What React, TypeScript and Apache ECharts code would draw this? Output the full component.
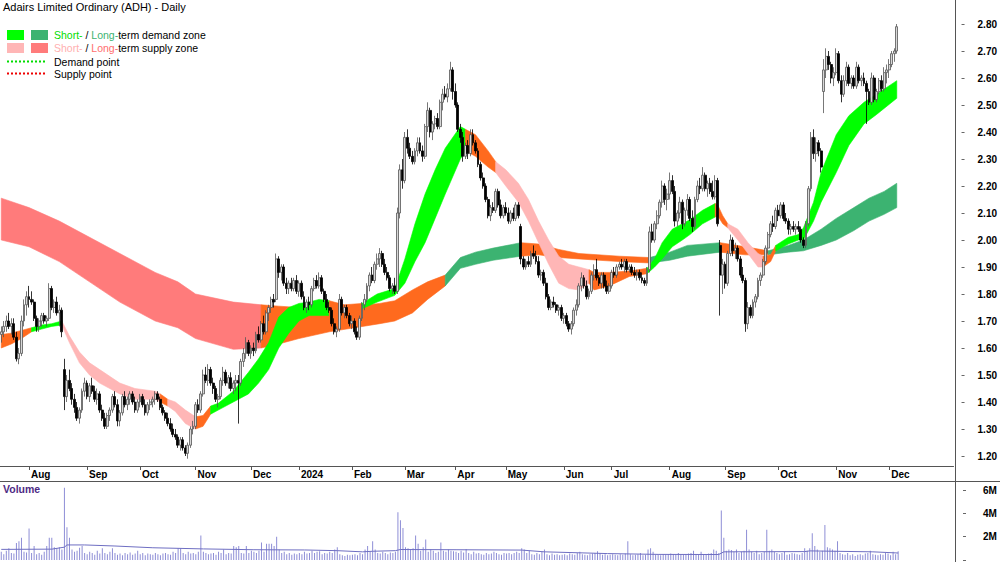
import React, { useEffect, useRef } from "react";
import * as echarts from "echarts";

// ---------- Axis labels ----------
const monthLabels = ["Aug", "Sep", "Oct", "Nov", "Dec", "2024", "Feb", "Mar", "Apr", "May", "Jun", "Jul", "Aug", "Sep", "Oct", "Nov", "Dec"];
const monthStartIdx = [11, 34, 55, 77, 99, 118, 139, 160, 180, 200, 223, 242, 265, 287, 308, 331, 352];
const priceTicks = { min: 1.2, max: 2.8, step: 0.1 };
const volumeTicks = { min: 0, max: 6, step: 2 };

// ---------- Daily bars [open, high, low, close] in cents ----------
const jul23 = [[165,168,162,166],[166,170,164,168],[168,172,166,170],[170,173,167,168],[168,171,165,169],[169,171,163,164],[164,166,155,156],[156,160,154,158],[158,172,157,170],[170,178,168,176],[176,181,172,179]];
const aug23 = [[179,183,175,178],[178,181,176,177],[177,178,170,171],[171,172,166,168],[168,171,166,170],[170,173,168,172],[172,173,169,170],[170,172,168,171],[171,184,170,182],[182,183,174,175],[175,178,173,177],[177,179,172,173],[173,176,168,174],[174,175,164,166],[152,156,137,142],[142,150,140,148],[148,152,144,145],[145,147,139,141],[141,143,136,138],[138,140,133,134],[134,138,132,137],[137,145,136,144],[144,149,142,147]];
const sep23 = [[147,148,141,142],[142,147,140,146],[146,149,143,144],[144,146,140,141],[141,145,139,143],[143,144,136,137],[137,139,133,134],[134,136,130,131],[131,136,130,135],[135,138,133,137],[137,143,136,142],[142,144,138,139],[139,141,131,133],[133,137,131,136],[136,143,135,142],[142,144,138,139],[139,142,137,141],[141,144,139,143],[143,144,139,140],[140,142,136,137],[137,141,136,140]];
const oct23 = [[140,143,138,142],[142,143,138,139],[139,141,135,136],[136,140,135,139],[139,141,137,140],[140,142,138,141],[141,144,139,143],[143,144,140,141],[141,142,137,138],[138,139,135,136],[136,137,133,134],[134,136,131,132],[132,134,129,130],[130,132,127,128],[128,130,126,127],[127,128,123,124],[124,127,122,126],[126,127,122,123],[123,124,120,121],[121,125,119,124],[124,131,123,130],[130,133,128,131]];
const nov23 = [[131,140,130,139],[139,141,136,137],[137,144,136,143],[143,152,142,150],[150,153,147,148],[148,154,146,152],[152,153,146,147],[147,149,143,145],[145,146,140,141],[141,143,138,142],[142,149,141,148],[148,153,146,151],[151,152,146,147],[147,150,145,149],[149,151,144,145],[145,148,143,147],[147,150,144,148],[148,150,132,147],[147,156,146,155],[155,160,153,158],[158,164,156,162],[162,163,157,158]];
const dec23 = [[158,161,156,160],[160,162,157,159],[159,166,158,165],[165,168,162,163],[163,170,162,169],[169,172,165,166],[166,174,165,173],[173,176,170,175],[175,179,173,178],[178,180,175,177],[178,195,177,193],[193,194,186,188],[188,191,185,190],[190,191,183,184],[184,186,180,182],[182,185,180,184],[184,186,181,182],[182,186,181,185],[185,187,180,181]];
const jan24 = [[181,185,179,184],[184,185,178,179],[179,181,174,175],[175,178,173,177],[177,179,174,176],[176,183,175,182],[182,186,181,185],[185,187,182,183],[183,188,182,186],[186,187,180,181],[181,182,177,178],[178,180,174,175],[175,177,173,174],[174,175,168,169],[169,171,165,166],[166,168,164,167],[167,180,166,178],[178,179,172,173],[173,176,171,175],[175,176,171,172],[172,173,168,169]];
const feb24 = [[169,172,167,170],[170,171,165,166],[166,168,163,164],[164,172,163,171],[171,177,170,176],[176,180,174,178],[178,184,177,183],[183,188,181,187],[187,190,184,185],[185,192,184,191],[191,195,189,193],[193,197,190,195],[195,196,190,191],[191,193,187,188],[188,190,185,186],[186,187,181,182],[182,184,180,183],[183,186,180,181],[181,212,180,210],[210,228,208,226],[226,230,219,222]];
const mar24 = [[222,240,221,238],[238,241,232,234],[234,236,230,231],[231,233,228,229],[229,234,228,233],[233,238,231,236],[236,238,232,233],[233,235,229,231],[231,243,230,242],[242,251,240,248],[248,249,238,240],[240,244,237,243],[243,246,241,245],[245,247,241,242],[242,252,241,251],[251,256,248,254],[254,257,252,253],[253,258,251,256],[256,266,255,263],[263,264,252,255]];
const apr24 = [[255,258,249,250],[250,251,240,241],[241,243,236,238],[238,240,229,231],[231,236,230,235],[235,237,230,232],[232,241,231,239],[239,241,235,236],[236,237,232,233],[233,234,227,228],[228,229,222,223],[223,225,219,220],[220,221,214,215],[215,216,208,209],[209,213,207,212],[212,214,210,211],[211,219,210,218],[218,219,212,213],[213,215,208,209],[209,213,208,212]];
const may24 = [[212,214,209,210],[210,212,206,207],[207,211,206,210],[210,212,207,208],[208,214,207,213],[213,214,208,209],[205,206,191,193],[193,194,189,190],[190,193,189,192],[192,194,190,191],[191,196,190,195],[195,198,193,194],[194,196,191,192],[192,194,186,187],[187,189,185,188],[188,189,183,184],[184,186,178,179],[179,180,174,175],[175,178,174,177],[177,179,175,176],[176,177,173,174],[174,176,172,175],[175,176,170,171]];
const jun24 = [[171,173,169,172],[172,173,168,169],[169,170,166,167],[167,170,165,169],[169,175,168,174],[174,178,172,176],[176,184,175,183],[183,188,181,186],[186,187,182,183],[183,185,178,179],[179,182,178,181],[181,188,180,187],[187,191,185,189],[189,193,185,186],[186,187,183,184],[184,188,182,187],[187,188,182,183],[183,185,180,181],[181,184,180,183]];
const jul24 = [[183,189,182,188],[188,190,186,187],[187,191,186,190],[190,192,189,191],[191,193,189,190],[190,193,188,192],[192,193,188,189],[189,191,188,190],[190,191,187,188],[188,190,186,187],[187,189,185,188],[188,189,185,186],[186,188,184,185],[185,186,183,184],[184,190,183,189],[189,205,188,203],[203,206,199,200],[200,207,199,206],[206,211,204,209],[209,215,208,214],[214,222,212,220],[220,221,213,215],[215,219,211,217]];
const aug24 = [[217,225,215,222],[222,224,217,218],[218,220,205,207],[207,211,205,210],[210,216,208,214],[214,215,204,206],[206,212,205,211],[211,217,209,215],[215,216,207,208],[208,211,203,205],[205,216,204,215],[215,222,214,220],[220,223,217,219],[219,227,218,224],[224,225,218,219],[219,222,216,221],[221,223,217,218],[218,222,215,216],[216,224,215,222],[222,223,205,206],[198,200,172,187],[187,193,180,191]];
const sep24 = [[191,192,182,184],[184,196,183,195],[195,202,194,200],[200,201,194,196],[196,199,193,197],[197,198,192,193],[193,194,186,187],[187,190,184,185],[185,186,166,169],[169,177,167,175],[175,176,171,172],[172,178,171,177],[177,180,175,179],[179,186,178,185],[185,188,183,187],[187,193,186,192],[192,198,191,197],[197,203,195,202],[202,207,201,206],[206,209,203,205],[205,212,204,211]];
const oct24 = [[211,213,207,209],[209,214,208,213],[213,214,207,208],[208,210,206,207],[207,208,202,204],[204,206,202,205],[205,207,203,204],[204,206,202,205],[205,207,203,204],[204,205,199,200],[200,201,197,198],[198,207,197,206],[206,220,205,219],[219,240,218,238],[238,241,230,232],[232,238,229,236],[236,237,231,233],[233,234,225,227],[255,267,247,263],[263,271,260,268],[268,270,263,265],[265,266,258,260],[260,264,257,262]];
const nov24 = [[262,271,261,269],[269,270,258,259],[259,261,251,254],[254,261,253,259],[259,266,257,264],[264,265,257,258],[258,261,256,260],[260,261,256,257],[257,266,256,264],[264,265,258,259],[259,261,257,260],[260,262,257,258],[258,259,243,255],[255,256,250,251],[251,262,250,260],[260,261,251,252],[252,256,251,255],[255,260,254,259],[259,261,255,256],[256,264,255,262],[262,265,258,263]];
const dec24 = [[263,267,260,265],[265,270,264,269],[269,271,266,270],[270,280,269,279]];

// ---------- Volume (millions) ----------
const volJul23 = [0.7,0.5,0.8,1.0,0.6,0.55,1.45,1.6,1.9,0.7,0.65];
const volAug23 = [2.7,0.6,1.2,0.5,0.6,0.45,0.7,1.2,1.9,1.9,1.1,1.0,1.1,0.9,6.2,2.8,1.9,0.9,0.7,0.8,1.05,1.2,0.6];
const volSep23 = [0.5,0.7,0.6,0.45,0.8,0.55,1.0,0.6,0.5,0.7,1.0,0.6,0.45,0.55,0.4,0.6,0.5,0.65,0.45,0.55,0.8];
const volOct23 = [0.5,0.6,0.4,0.55,0.5,0.45,0.6,0.5,0.4,0.55,0.6,0.5,0.45,0.7,0.6,1.0,1.0,0.6,0.5,0.7,0.55,0.6];
const volNov23 = [0.5,0.7,2.1,0.7,0.6,0.5,0.55,0.6,0.45,0.7,0.6,0.9,0.5,0.6,0.55,1.2,1.1,1.2,0.6,0.55,1.2,0.6];
const volDec23 = [0.8,0.7,0.6,0.8,1.5,0.7,1.4,1.4,1.4,1.2,2.0,0.9,0.6,0.7,0.5,0.6,0.45,0.55,0.5];
const volJan24 = [0.6,0.5,0.7,0.55,0.6,0.8,0.6,0.7,0.75,0.5,0.6,0.55,0.7,0.6,0.9,1.1,0.5,0.4,0.35,0.45,0.4];
const volFeb24 = [0.45,0.5,0.4,0.6,0.5,0.9,1.2,0.7,1.6,0.9,0.6,0.55,0.7,0.6,0.5,0.65,0.6,0.7,4.1,3.4,2.75];
const volMar24 = [1.1,1.0,0.9,1.0,2.1,1.4,0.8,1.1,1.75,0.7,0.9,0.8,0.6,0.7,1.5,0.8,0.7,0.9,0.8,0.75];
const volApr24 = [0.7,0.6,0.8,0.65,0.95,0.6,0.5,0.7,0.55,0.6,0.5,0.45,0.6,0.5,0.55,0.7,0.6,0.5,0.45,0.6];
const volMay24 = [0.55,0.6,0.5,0.6,0.7,0.6,1.0,0.9,0.6,0.8,0.5,0.45,0.6,0.5,0.7,0.9,0.5,0.4,0.55,0.45,0.5,0.4,0.45];
const volJun24 = [0.5,0.4,0.55,0.5,0.45,0.6,0.7,0.5,0.45,0.4,0.5,0.55,0.6,0.75,0.6,0.45,0.5,0.4,0.45];
const volJul24 = [0.5,0.45,0.4,0.5,0.45,0.55,1.6,0.5,0.4,0.45,0.5,0.6,0.4,0.45,0.9,1.0,0.7,0.45,0.5,0.4,0.5,0.45,0.5];
const volAug24 = [0.55,0.5,0.45,0.6,0.5,0.45,0.5,0.55,0.6,0.8,0.5,0.45,0.7,0.5,0.45,0.55,0.6,0.9,0.8,0.6,4.25,1.9];
const volSep24 = [0.8,0.9,0.85,0.7,0.9,0.6,0.7,0.8,2.6,0.9,0.7,0.6,0.8,0.5,0.6,0.7,2.6,0.8,0.9,0.7,0.6];
const volOct24 = [0.5,0.6,0.7,0.45,0.5,0.6,0.55,0.5,0.45,0.6,1.0,0.8,1.0,2.3,1.2,0.9,0.7,0.8,3.0,1.1,1.0,0.9,0.8];
const volNov24 = [1.6,0.6,0.5,0.45,0.6,0.4,0.5,0.35,0.45,0.5,0.4,0.55,0.6,0.8,0.5,0.45,0.4,0.5,0.45,0.6,0.55];
const volDec24 = [0.4,0.7,0.5,0.75];

// Volume average line: [bar index, millions]
const volumeAverage = [[0,0.91],[20,0.93],[25,1.1],[26,1.29],[33,1.29],[45,1.2],[60,1.05],[80,0.95],[100,0.88],[120,0.86],[133,0.8],[143,0.7],[147,0.75],[156,0.8],[158,0.9],[180,0.88],[206,0.85],[215,0.7],[240,0.55],[260,0.48],[284,0.47],[286,0.7],[318,0.72],[320,0.78],[345,0.7],[355,0.6]];

// ---------- Zones: [bar index, lower, upper] ----------
const ltSupply1 = [[0,2.00,2.155],[11,1.975,2.12],[23,1.92,2.07],[35,1.845,2.01],[47,1.77,1.95],[61,1.70,1.88],[70,1.675,1.845],[77,1.635,1.80],[92,1.595,1.77],[103,1.60,1.76]];
const ltNeutral1 = [[103,1.60,1.76],[110,1.615,1.755],[118,1.635,1.75],[130,1.66,1.75],[140,1.675,1.755],[150,1.69,1.765],[156,1.70,1.775],[163,1.73,1.815],[169,1.78,1.845],[176,1.83,1.87]];
const ltDemand1 = [[176,1.83,1.87],[182,1.895,1.935],[188,1.91,1.955],[195,1.925,1.97],[206,1.94,1.99]];
const ltNeutral2 = [[206,1.94,1.99],[213,1.945,1.985],[221,1.935,1.965],[229,1.93,1.95],[245,1.92,1.94],[257,1.915,1.935]];
const ltDemand2 = [[257,1.915,1.935],[265,1.925,1.955],[272,1.94,1.98],[285,1.955,1.99]];
const ltNeutral3 = [[285,1.955,1.99],[295,1.945,1.975],[304,1.945,1.96]];
const ltDemand3 = [[304,1.945,1.96],[312,1.955,1.98],[318,1.96,2.00],[325,1.98,2.04],[331,2.00,2.08],[338,2.035,2.12],[344,2.07,2.155],[350,2.095,2.18],[355,2.12,2.21]];

const stNeutral1 = [[0,1.60,1.65],[4,1.615,1.655],[8,1.635,1.665],[12,1.66,1.675]];
const stDemand1 = [[12,1.66,1.675],[16,1.67,1.685],[20,1.68,1.69],[24,1.685,1.70]];
const stSupply1 = [[24,1.685,1.70],[27,1.62,1.645],[31,1.545,1.585],[35,1.50,1.545],[39,1.47,1.52],[47,1.43,1.47],[53,1.41,1.45],[61,1.41,1.44],[63,1.40,1.43]];
const stNeutral2 = [[63,1.40,1.43],[66,1.385,1.41]];
const stSupply2 = [[66,1.385,1.41],[69,1.365,1.40],[73,1.32,1.37],[77,1.30,1.345]];
const stNeutral3 = [[77,1.30,1.345],[80,1.31,1.35],[83,1.355,1.385]];
const stDemand2 = [[83,1.355,1.385],[86,1.37,1.395],[92,1.40,1.44],[98,1.43,1.51],[102,1.47,1.56],[106,1.52,1.62],[110,1.60,1.715],[114,1.655,1.75],[118,1.70,1.765],[122,1.72,1.77],[126,1.72,1.78],[130,1.72,1.775]];
const stNeutral4 = [[130,1.72,1.775],[136,1.72,1.76],[143,1.745,1.765]];
const stDemand3 = [[143,1.745,1.765],[149,1.77,1.80],[156,1.795,1.82],[160,1.84,1.93],[164,1.92,2.06],[168,1.99,2.17],[172,2.08,2.26],[176,2.17,2.34],[182,2.30,2.42],[184,2.33,2.41]];
const stNeutral5 = [[184,2.33,2.41],[188,2.31,2.39],[193,2.27,2.33],[196,2.25,2.29]];
const stSupply3 = [[196,2.25,2.29],[200,2.20,2.26],[205,2.14,2.21],[209,2.07,2.15],[213,1.99,2.07],[217,1.91,2.00],[221,1.84,1.94],[225,1.82,1.91],[229,1.815,1.90],[233,1.84,1.89]];
const stNeutral6 = [[233,1.84,1.89],[235,1.815,1.88],[241,1.83,1.88],[249,1.865,1.885],[256,1.875,1.895]];
const stDemand4 = [[256,1.875,1.895],[259,1.90,1.93],[262,1.93,1.99],[266,1.975,2.04],[270,2.00,2.06],[273,2.02,2.075],[278,2.06,2.11],[283,2.085,2.135]];
const stNeutral7 = [[283,2.085,2.135],[284,2.09,2.13],[286,2.06,2.09],[288,2.045,2.06]];
const stSupply4 = [[288,2.045,2.06],[292,2.00,2.04],[296,1.95,1.99],[300,1.90,1.95],[302,1.90,1.94]];
const stNeutral8 = [[302,1.90,1.94],[305,1.92,1.945],[307,1.96,1.98]];
const stDemand5 = [[307,1.96,1.98],[312,1.985,2.01],[316,2.00,2.02],[318,2.00,2.045],[322,2.07,2.14],[325,2.14,2.25],[331,2.25,2.39],[336,2.35,2.46],[342,2.43,2.51],[347,2.465,2.54],[355,2.525,2.59]];

// ---------- Styling ----------
const C_GREEN = "#00FF00";
const C_DGREEN = "#3CB371";
const C_PINK = "#FFB6B6";
const C_RED = "#FF7B7B";
const C_ORANGE = "#FF6A1E";
const FONT = "Liberation Sans, Arial, sans-serif";

const longTermZones = [
  { color: C_RED, pts: ltSupply1 },
  { color: C_ORANGE, pts: ltNeutral1 },
  { color: C_DGREEN, pts: ltDemand1 },
  { color: C_ORANGE, pts: ltNeutral2 },
  { color: C_DGREEN, pts: ltDemand2 },
  { color: C_ORANGE, pts: ltNeutral3 },
  { color: C_DGREEN, pts: ltDemand3 },
];
const shortTermZones = [
  { color: C_ORANGE, pts: stNeutral1 },
  { color: C_GREEN, pts: stDemand1 },
  { color: C_PINK, pts: stSupply1 },
  { color: C_ORANGE, pts: stNeutral2 },
  { color: C_PINK, pts: stSupply2 },
  { color: C_ORANGE, pts: stNeutral3 },
  { color: C_GREEN, pts: stDemand2 },
  { color: C_ORANGE, pts: stNeutral4 },
  { color: C_GREEN, pts: stDemand3 },
  { color: C_ORANGE, pts: stNeutral5 },
  { color: C_PINK, pts: stSupply3 },
  { color: C_ORANGE, pts: stNeutral6 },
  { color: C_GREEN, pts: stDemand4 },
  { color: C_ORANGE, pts: stNeutral7 },
  { color: C_PINK, pts: stSupply4 },
  { color: C_ORANGE, pts: stNeutral8 },
  { color: C_GREEN, pts: stDemand5 },
];

const bars = [...jul23, ...aug23, ...sep23, ...oct23, ...nov23, ...dec23, ...jan24, ...feb24, ...mar24, ...apr24, ...may24, ...jun24, ...jul24, ...aug24, ...sep24, ...oct24, ...nov24, ...dec24];
const volumes = [...volJul23, ...volAug23, ...volSep23, ...volOct23, ...volNov23, ...volDec23, ...volJan24, ...volFeb24, ...volMar24, ...volApr24, ...volMay24, ...volJun24, ...volJul24, ...volAug24, ...volSep24, ...volOct24, ...volNov24, ...volDec24];

const EMPTY_SLOTS = 22; // blank space at right of the plot
const categories = Array.from({ length: bars.length + EMPTY_SLOTS }, (_, i) => "d" + i);
const labelMap = new Map<number, string>(monthStartIdx.map((idx, k) => [idx, monthLabels[k]]));

function zoneSeries(zones: { color: string; pts: number[][] }[], z: number) {
  return {
    type: "custom",
    xAxisIndex: 0,
    yAxisIndex: 0,
    z,
    silent: true,
    data: zones.map((s, k) => [s.pts[0][0], s.pts[0][1], k]),
    encode: { x: 0, y: 1 },
    renderItem: (params: any, api: any) => {
      const s = zones[params.dataIndex];
      const top = s.pts.map((p) => api.coord([p[0], p[2]]));
      const bot = s.pts.slice().reverse().map((p) => api.coord([p[0], p[1]]));
      return {
        type: "polygon",
        shape: { points: top.concat(bot) },
        style: { fill: s.color, stroke: s.color, lineWidth: 0.6 },
      };
    },
  };
}

export default function App() {
  const ref = useRef<HTMLDivElement>(null);
  useEffect(() => {
    const chart = echarts.init(ref.current!, null, { renderer: "svg" });
    const axisLabelStyle = { color: "#000", fontSize: 10, fontWeight: "bold", fontFamily: FONT };
    const option: any = {
      animation: false,
      backgroundColor: "#fff",
      textStyle: { fontFamily: FONT },
      grid: [
        { left: 0, right: 45, top: 24, height: 432 },
        { left: 0, right: 45, top: 490, height: 70 },
      ],
      xAxis: [
        {
          type: "category",
          gridIndex: 0,
          data: categories,
          boundaryGap: true,
          offset: 10,
          axisLine: { show: true, lineStyle: { color: "#555", width: 1 } },
          axisTick: { show: true, alignWithLabel: true, interval: (i: number) => labelMap.has(i), length: 4, lineStyle: { color: "#555" } },
          axisLabel: {
            ...axisLabelStyle,
            interval: (i: number) => labelMap.has(i),
            formatter: (v: string) => labelMap.get(parseInt(v.slice(1), 10)) ?? "",
            align: "left",
            padding: [0, 0, 0, 2],
            margin: 3,
          },
          splitLine: { show: false },
        },
        { type: "category", gridIndex: 1, data: categories, boundaryGap: true, show: false },
      ],
      yAxis: [
        {
          type: "value",
          gridIndex: 0,
          position: "right",
          min: priceTicks.min,
          max: priceTicks.max,
          interval: priceTicks.step,
          offset: 8,
          axisLine: { show: false },
          axisTick: { show: true, length: 3, lineStyle: { color: "#666" } },
          axisLabel: { ...axisLabelStyle, margin: 16, formatter: (v: number) => v.toFixed(2) },
          splitLine: { show: false },
        },
        {
          type: "value",
          gridIndex: 1,
          position: "right",
          min: volumeTicks.min,
          max: volumeTicks.max,
          interval: volumeTicks.step,
          offset: 8,
          axisLine: { show: false },
          axisTick: { show: true, length: 3, lineStyle: { color: "#666" } },
          axisLabel: { ...axisLabelStyle, margin: 20, formatter: (v: number) => (v === 0 ? "" : v + "M") },
          splitLine: { show: false },
        },
      ],
      series: [
        zoneSeries(longTermZones, 1),
        zoneSeries(shortTermZones, 2),
        {
          type: "candlestick",
          xAxisIndex: 0,
          yAxisIndex: 0,
          z: 3,
          barWidth: 2.4,
          silent: true,
          data: bars.map(([o, h, l, c]) => [o / 100, c / 100, l / 100, h / 100]),
          itemStyle: { color: "#d8d8d8", color0: "#000000", borderColor: "#555", borderColor0: "#000", borderWidth: 0.8 },
        },
        {
          type: "bar",
          xAxisIndex: 1,
          yAxisIndex: 1,
          barWidth: 1,
          clip: false,
          silent: true,
          data: volumes,
          itemStyle: { color: "#8E8ED6" },
        },
        {
          type: "line",
          xAxisIndex: 1,
          yAxisIndex: 1,
          z: 4,
          silent: true,
          symbol: "none",
          data: volumeAverage,
          lineStyle: { color: "#6E6EC2", width: 1 },
        },
      ],
      graphic: [
        { type: "line", z: 100, shape: { x1: 955.5, y1: 0, x2: 955.5, y2: 562 }, style: { stroke: "#555", lineWidth: 1 } },
        { type: "line", z: 100, shape: { x1: 0, y1: 481.5, x2: 1000, y2: 481.5 }, style: { stroke: "#555", lineWidth: 1 } },
        { type: "text", z: 100, x: 3, y: 7, style: { text: "Adairs Limited Ordinary (ADH) - Daily", fill: "#000", font: `11px ${FONT}`, verticalAlign: "middle" } },
        { type: "rect", z: 100, shape: { x: 7, y: 30, width: 17, height: 10 }, style: { fill: C_GREEN } },
        { type: "rect", z: 100, shape: { x: 31, y: 30, width: 17, height: 10 }, style: { fill: C_DGREEN } },
        { type: "rect", z: 100, shape: { x: 7, y: 43, width: 17, height: 10 }, style: { fill: C_PINK } },
        { type: "rect", z: 100, shape: { x: 31, y: 43, width: 17, height: 10 }, style: { fill: C_RED } },
        {
          type: "text", z: 100, x: 54, y: 35,
          style: {
            text: "{g|Short-} / {d|Long-}term demand zone",
            fill: "#000", font: `10.5px ${FONT}`, verticalAlign: "middle",
            rich: { g: { fill: "#00DD00", fontSize: 10.5, fontFamily: FONT }, d: { fill: C_DGREEN, fontSize: 10.5, fontFamily: FONT } },
          },
        },
        {
          type: "text", z: 100, x: 54, y: 48,
          style: {
            text: "{p|Short-} / {r|Long-}term supply zone",
            fill: "#000", font: `10.5px ${FONT}`, verticalAlign: "middle",
            rich: { p: { fill: "#FFB0B0", fontSize: 10.5, fontFamily: FONT }, r: { fill: "#FF6E6E", fontSize: 10.5, fontFamily: FONT } },
          },
        },
        { type: "line", z: 100, shape: { x1: 7, y1: 61.5, x2: 45, y2: 61.5 }, style: { stroke: "#00DD00", lineWidth: 2, lineDash: [2, 2] } },
        { type: "text", z: 100, x: 54, y: 62, style: { text: "Demand point", fill: "#000", font: `10.5px ${FONT}`, verticalAlign: "middle" } },
        { type: "line", z: 100, shape: { x1: 7, y1: 73.5, x2: 45, y2: 73.5 }, style: { stroke: "#EE0000", lineWidth: 2, lineDash: [2, 2] } },
        { type: "text", z: 100, x: 54, y: 74, style: { text: "Supply point", fill: "#000", font: `10.5px ${FONT}`, verticalAlign: "middle" } },
        { type: "text", z: 100, x: 3, y: 489, style: { text: "Volume", fill: "#4E2A84", font: `bold 10.5px ${FONT}`, verticalAlign: "middle" } },
      ],
    };
    chart.setOption(option);
    return () => chart.dispose();
  }, []);
  return <div ref={ref} style={{ position: "absolute", left: 0, top: 0, width: 1000, height: 562 }} />;
}
